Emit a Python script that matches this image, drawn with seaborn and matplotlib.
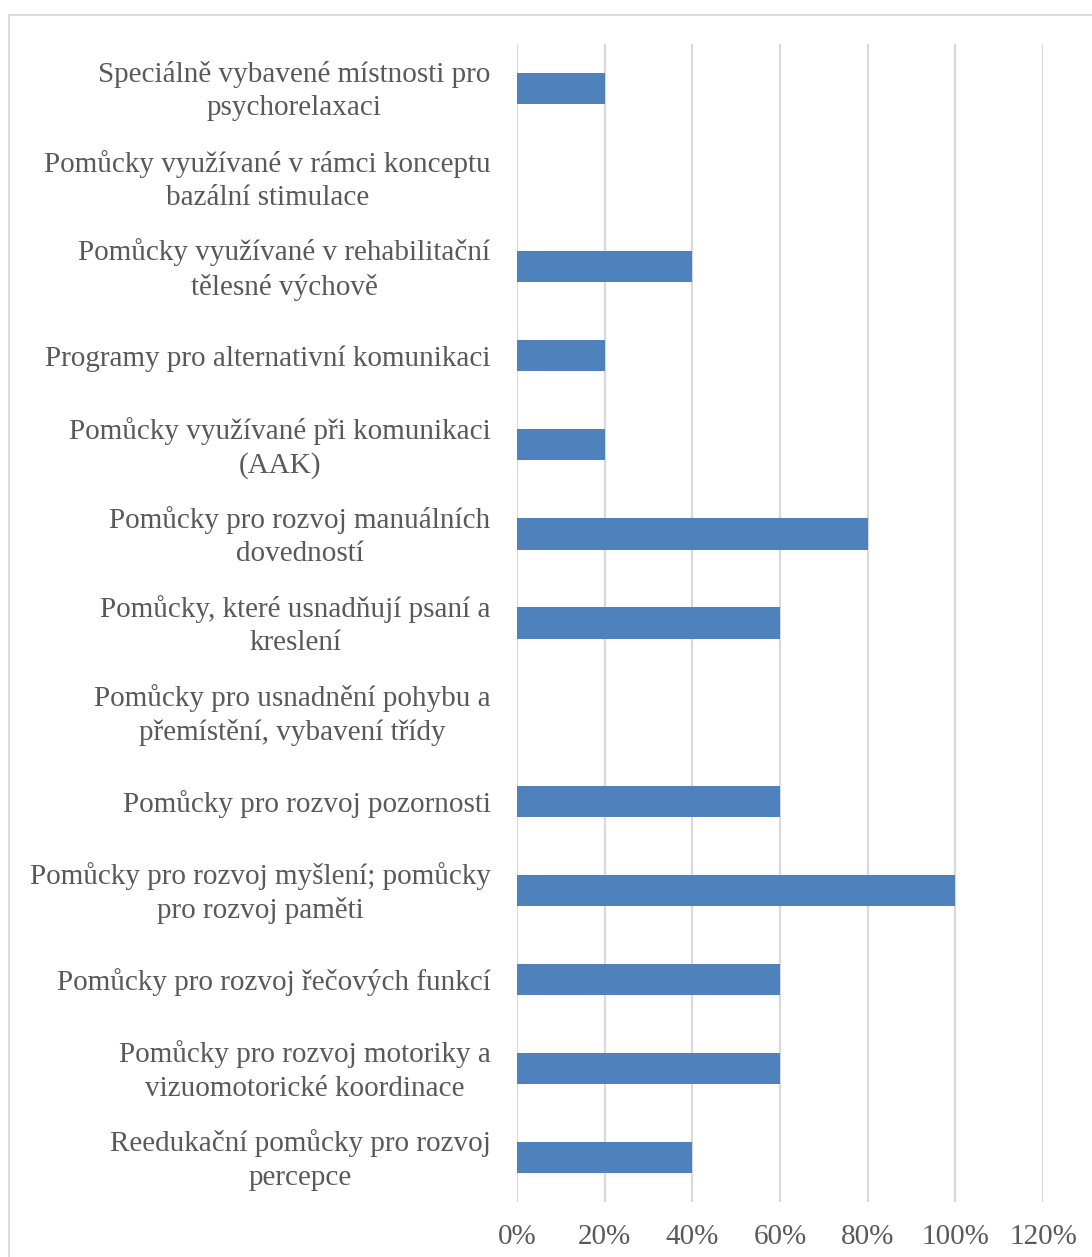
import matplotlib
matplotlib.use("Agg")
import matplotlib.pyplot as plt
import seaborn as sns
import pandas as pd
from matplotlib.patches import Rectangle
from matplotlib.ticker import FuncFormatter
from matplotlib.transforms import ScaledTranslation

categories = [
    "Speciálně vybavené místnosti pro\npsychorelaxaci",
    "Pomůcky využívané v rámci konceptu\nbazální stimulace",
    "Pomůcky využívané v rehabilitační\ntělesné výchově",
    "Programy pro alternativní komunikaci",
    "Pomůcky využívané při komunikaci\n(AAK)",
    "Pomůcky pro rozvoj manuálních\ndovedností",
    "Pomůcky, které usnadňují psaní a\nkreslení",
    "Pomůcky pro usnadnění pohybu a\npřemístění, vybavení třídy",
    "Pomůcky pro rozvoj pozornosti",
    "Pomůcky pro rozvoj myšlení; pomůcky\npro rozvoj paměti",
    "Pomůcky pro rozvoj řečových funkcí",
    "Pomůcky pro rozvoj motoriky a\nvizuomotorické koordinace",
    "Reedukační pomůcky pro rozvoj\npercepce",
]
values = [20, 0, 40, 20, 20, 80, 60, 0, 60, 100, 60, 60, 40]
x_ticks = [0, 20, 40, 60, 80, 100, 120]

df = pd.DataFrame({"kategorie": categories, "podil": values})

sns.set_theme(style="white")
plt.rcParams["font.family"] = ["Liberation Serif", "DejaVu Serif"]

W, H = 1092, 1257
fig = plt.figure(figsize=(W / 100, H / 100), dpi=100)
ax = fig.add_axes([517 / W, 1 - 1202 / H, (1043 - 517) / W, (1202 - 44) / H])

sns.barplot(data=df, y="kategorie", x="podil", color="#4f81bd", saturation=1,
            width=0.35, ax=ax, orient="h", linewidth=0)

ax.set_xlim(0, 120)
ax.set_xticks(x_ticks)
ax.xaxis.set_major_formatter(FuncFormatter(lambda v, p: f"{v:.0f}%"))
ax.grid(axis="x", color="#d9d9d9", linewidth=1.6)
ax.grid(axis="y", visible=False)
ax.set_axisbelow(True)
for s in ax.spines.values():
    s.set_visible(False)
ax.set_xlabel("")
ax.set_ylabel("")
ax.tick_params(axis="both", length=0, colors="#595959", labelsize=21)
ax.tick_params(axis="y", pad=19)
ax.tick_params(axis="x", pad=16)

# two-line labels sit slightly higher so both lines straddle the bar
lift = ScaledTranslation(0, 4 / 100, fig.dpi_scale_trans)
for lbl in ax.get_yticklabels():
    lbl.set_multialignment("center")
    lbl.set_linespacing(1.36)
    if "\n" in lbl.get_text():
        lbl.set_transform(lbl.get_transform() + lift)

# chart frame
fig.patches.append(Rectangle((9 / W, -0.05), 1.2, 1 - 15 / H + 0.05,
                             transform=fig.transFigure, fill=False,
                             edgecolor="#d9d9d9", linewidth=1.3))

fig.savefig("out.png", dpi=100)
